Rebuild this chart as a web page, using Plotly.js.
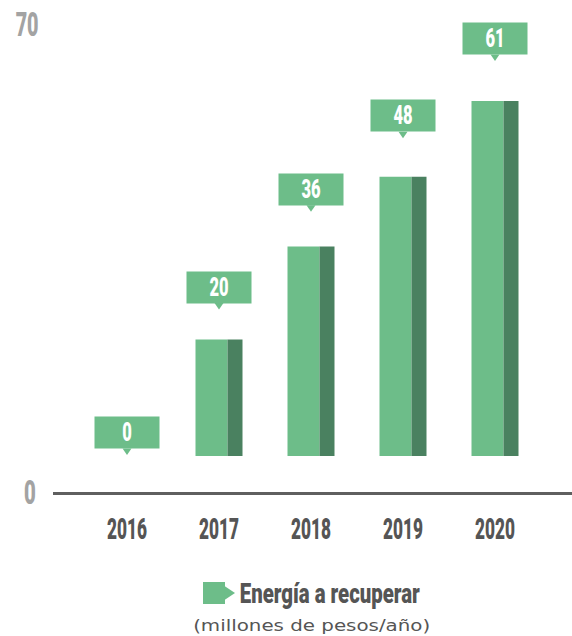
<!DOCTYPE html>
<html>
<head>
<meta charset="utf-8">
<script src="https://cdn.plot.ly/plotly-3.0.1.min.js"></script>
<style>html,body{margin:0;padding:0;background:#fff;}#chart{width:572px;height:636px;}</style>
</head>
<body>
<div id="chart"></div>
<script>
// ---- data ----
const years = ["2016", "2017", "2018", "2019", "2020"];
const values = [0, 20, 36, 48, 61];
const axisLabels = ["0", "70"];
const seriesName = "Energía a recuperar";
const unitsLabel = "(millones de pesos/año)";

// ---- style ----
const FRONT = "#6dbd89";
const SIDE = "#4a8160";
const COND = "Roboto, 'DejaVu Sans', sans-serif";
const HEAVY = 900;
const W = 572, H = 636;
const M = {l: 53, r: 0, t: 20, b: 144};
const plotH = H - M.t - M.b;
const plotW = W - M.l - M.r;
const pxPerUnit = 5.82;          // vertical scale
const zeroLift = 36;             // px from axis line to bar base
const yMin = -zeroLift / pxPerUnit;
const yMax = yMin + plotH / pxPerUnit;
const step = 92;                 // px between categories
const firstCenter = 127;         // px of first category centre
const xMin = (M.l - firstCenter) / step;
const xMax = (W - M.r - firstCenter) / step;

const idx = years.map((_, i) => i);
const frontW = 32 / step, sideW = 15 / step;
const frontOff = -23.5 / step, sideOff = 8.5 / step;

const traces = [
  {type: "bar", x: idx, y: values, width: frontW, offset: frontOff,
   marker: {color: FRONT}, hoverinfo: "skip", showlegend: false},
  {type: "bar", x: idx, y: values, width: sideW, offset: sideOff,
   marker: {color: SIDE}, hoverinfo: "skip", showlegend: false}
];

const annotations = [];
const squeeze = [];   // horizontal compression per annotation (condensed look)
const shapes = [];
values.forEach((v, i) => {
  const gap = v === 0 ? 7 : Math.min(46, 30 + v * 0.3);
  annotations.push({
    x: i, y: v, xref: "x", yref: "y", xanchor: "center", yanchor: "bottom",
    yshift: gap, text: String(v), showarrow: false,
    bgcolor: FRONT, width: 64, height: 31, borderpad: 0, valign: "middle",
    font: {family: COND, size: 25, color: "#ffffff", weight: HEAVY}
  });
  squeeze.push(0.66);
  shapes.push({
    type: "path", xref: "x", yref: "y", xsizemode: "pixel", ysizemode: "pixel",
    xanchor: i, yanchor: v,
    path: `M -4.5 ${gap + 0.5} L 4.5 ${gap + 0.5} L 0 ${gap - 6} Z`,
    fillcolor: FRONT, line: {width: 0}
  });
});

// y-axis end labels
const toPaperX = px => (px - M.l) / plotW;
const toPaperY = py => (H - M.b - py) / plotH;
annotations.push({
  xref: "paper", yref: "paper", x: toPaperX(29.5), y: 0, xanchor: "center", yanchor: "middle",
  text: axisLabels[0], showarrow: false,
  font: {family: COND, size: 34, color: "#a3a3a3", weight: HEAVY}
});
squeeze.push(0.6);
annotations.push({
  xref: "paper", yref: "paper", x: toPaperX(26.5), y: toPaperY(25), xanchor: "center", yanchor: "middle",
  text: axisLabels[1], showarrow: false,
  font: {family: COND, size: 33, color: "#a3a3a3", weight: HEAVY}
});
squeeze.push(0.6);

// legend
shapes.push({
  type: "rect", xref: "paper", yref: "paper",
  x0: toPaperX(203), x1: toPaperX(225), y0: toPaperY(604), y1: toPaperY(582),
  fillcolor: FRONT, line: {width: 0}
});
shapes.push({
  type: "path", xref: "paper", yref: "paper", xsizemode: "pixel", ysizemode: "pixel",
  xanchor: toPaperX(225), yanchor: toPaperY(593),
  path: "M -0.5 -7 L 10 0 L -0.5 7 Z", fillcolor: FRONT, line: {width: 0}
});
annotations.push({
  xref: "paper", yref: "paper", x: toPaperX(330), y: toPaperY(593), xanchor: "center", yanchor: "middle",
  text: seriesName, showarrow: false,
  font: {family: COND, size: 28, color: "#555555", weight: HEAVY}
});
squeeze.push({width: 180});
annotations.push({
  xref: "paper", yref: "paper", x: toPaperX(311.5), y: toPaperY(625), xanchor: "center", yanchor: "middle",
  text: unitsLabel, showarrow: false,
  font: {family: "'DejaVu Sans', sans-serif", size: 16, color: "#555555"}
});
squeeze.push({width: 237});

const layout = {
  width: W, height: H, margin: M,
  paper_bgcolor: "#ffffff", plot_bgcolor: "#ffffff",
  barmode: "overlay", showlegend: false,
  xaxis: {
    range: [xMin, xMax], tickvals: idx, ticktext: years,
    showgrid: false, zeroline: false, showline: true, linecolor: "#5f5f5f", linewidth: 3,
    ticks: "", ticklabelstandoff: 9, fixedrange: true,
    tickfont: {family: COND, size: 29, color: "#555555", weight: HEAVY}
  },
  yaxis: {
    range: [yMin, yMax], showgrid: false, zeroline: false, showline: false,
    showticklabels: false, ticks: "", fixedrange: true
  },
  annotations: annotations, shapes: shapes
};

function condense(el, spec) {
  const w = el.getComputedTextLength();
  const target = typeof spec === "number" ? w * spec : spec.width;
  el.setAttribute("textLength", target.toFixed(2));
  el.setAttribute("lengthAdjust", "spacingAndGlyphs");
}

Plotly.newPlot("chart", traces, layout, {displayModeBar: false, staticPlot: true}).then(gd => {
  gd.querySelectorAll(".xtick text").forEach(t => condense(t, {width: 40}));
  gd.querySelectorAll(".annotation").forEach((g, i) => {
    const t = g.querySelector("text.annotation-text");
    if (t && squeeze[i] !== undefined) condense(t, squeeze[i]);
  });
});
</script>
</body>
</html>
